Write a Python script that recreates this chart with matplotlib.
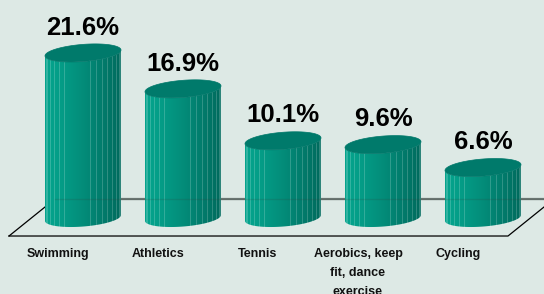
import matplotlib
matplotlib.use("Agg")
import matplotlib.pyplot as plt
import numpy as np
from matplotlib import font_manager
from matplotlib.patches import Polygon
from matplotlib.colors import to_rgb

# Data (share of respondents, %)
categories = ['Swimming', 'Athletics', 'Tennis', 'Aerobics, keep\nfit, dance\nexercise', 'Cycling']
values = [21.6, 16.9, 10.1, 9.6, 6.6]
value_labels = ['21.6%', '16.9%', '10.1%', '9.6%', '6.6%']

bg = '#dde9e5'
light = np.array(to_rgb('#05a48d'))
dark = np.array(to_rgb('#006a5d'))
top_col = '#007a6b'

installed = {f.name for f in font_manager.fontManager.ttflist}
label_font = 'Liberation Sans Narrow' if 'Liberation Sans Narrow' in installed else 'Liberation Sans'
label_size = 10.5 if label_font == 'Liberation Sans Narrow' else 9.0
plt.rcParams['font.family'] = ['Liberation Sans', 'DejaVu Sans']

fig = plt.figure(figsize=(5.44, 2.94), dpi=100)
fig.patch.set_facecolor(bg)
ax = fig.add_axes([0, 0, 1, 1])
ax.set_facecolor(bg)
ax.set_xlim(-0.83, 4.61)
ax.set_ylim(-9.95, 28.53)
ax.axis('off')

# floor parallelogram
ax.plot([-0.28, 4.75], [2.49, 2.49], color='#6b7773', lw=1.6, zorder=1)
ax.plot([-0.74, -0.28], [-2.36, 2.49], color='black', lw=0.9, zorder=1)
ax.plot([-0.74, 4.25, 4.71], [-2.36, -2.36, 2.49], color='black', lw=0.9, zorder=1)

a = 0.38      # half width of a cylinder
b = 1.12      # half height of the ellipses
shear = 1.0   # tilt of the ellipses

t = np.linspace(0, 2 * np.pi, 200)
n_grad = 300
xs = np.linspace(0, 1, n_grad)
shade = xs ** 1.3
grad = light[None, :] * (1 - shade[:, None]) + dark[None, :] * shade[:, None]
img = np.tile(grad[None, :, :], (2, 1, 1))

for i, v in enumerate(values):
    cx = i
    ex = cx + a * np.cos(t)
    tilt = shear * a * np.cos(t)
    # body outline: bottom front arc + top front arc
    tb = np.linspace(np.pi, 2 * np.pi, 100)
    bx = cx + a * np.cos(tb)
    by = b * np.sin(tb) + shear * a * np.cos(tb)
    tx = bx[::-1]
    ty = v + b * np.sin(tb[::-1]) + shear * a * np.cos(tb[::-1])
    body = Polygon(np.column_stack([np.r_[bx, tx], np.r_[by, ty]]),
                   closed=True, facecolor='none', edgecolor='none', zorder=2)
    ax.add_patch(body)
    im = ax.imshow(img, extent=[cx - a, cx + a, -b - 1, v + b + 1],
                   aspect='auto', origin='lower', zorder=2, interpolation='bilinear')
    im.set_clip_path(body)
    # facet stripes
    for k in list(range(1, 7)) + list(range(10, 18)):
        sx = cx - a * np.cos(k * np.pi / 18)
        ang = np.arccos((cx - sx) / a)
        y0 = -b * np.sin(ang) - shear * (cx - sx)
        y1 = v - b * np.sin(ang) - shear * (cx - sx)
        ax.plot([sx, sx], [y0, y1], color='white', alpha=0.22, lw=0.6, zorder=3)
    # top ellipse
    top = Polygon(np.column_stack([ex, v + b * np.sin(t) + tilt]), closed=True,
                  facecolor=top_col, edgecolor='#00786a', lw=0.5, zorder=4)
    ax.add_patch(top)
    ax.text(cx, v + 2.4, value_labels[i], ha='center', va='baseline',
            fontsize=18.5, fontweight='bold', color='black', zorder=5)
    ax.text(cx - 0.25, -3.95, categories[i], ha='center', va='top',
            fontsize=label_size, fontweight='bold', family=[label_font, 'DejaVu Sans'],
            linespacing=1.75, color='#111111', zorder=5)

# back floor line faintly seen through the cylinders
ax.plot([-0.28, 4.75], [2.49, 2.49], color='#34403c', lw=1.0, alpha=0.18, zorder=3)

fig.savefig('out.png', dpi=100, facecolor=bg)
